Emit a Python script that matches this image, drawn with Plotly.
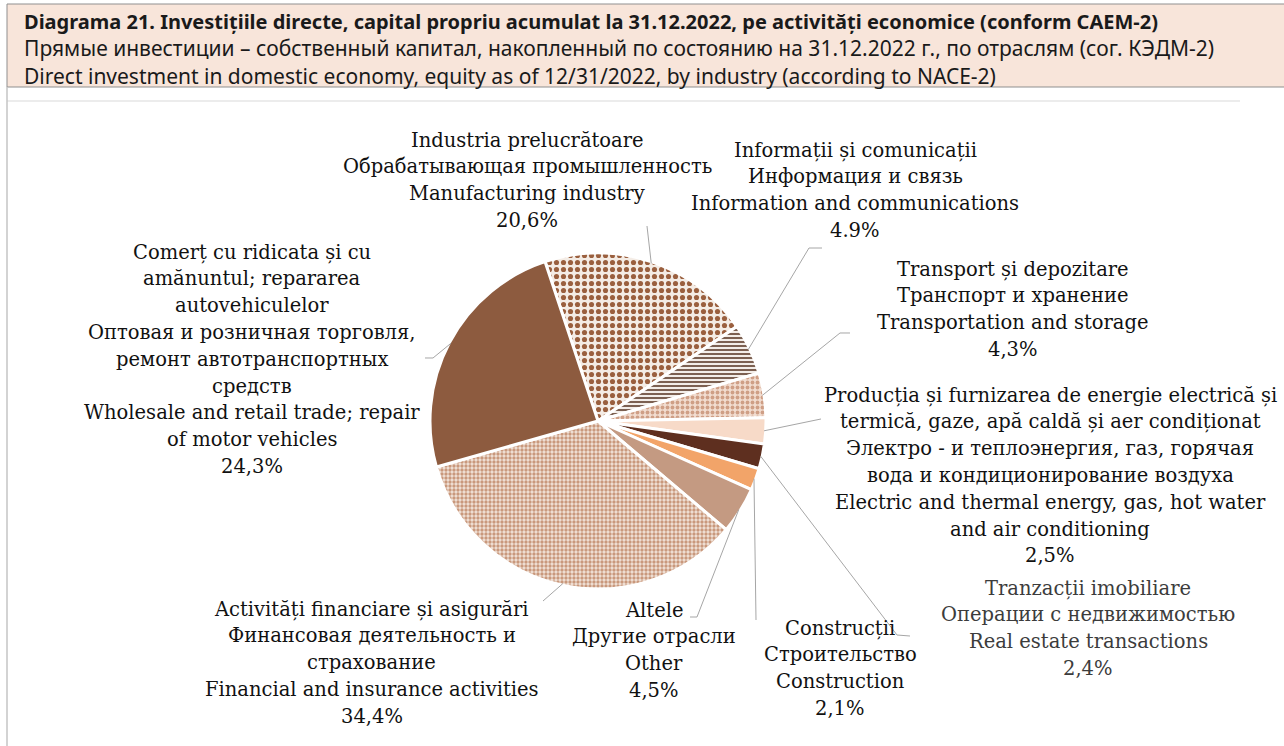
import math
import plotly.graph_objects as go

W, H = 1284, 746

# ---------------- data ----------------
label_lines = [
    ["Industria prelucrătoare", "Обрабатывающая промышленность", "Manufacturing industry"],
    ["Informații și comunicații", "Информация и связь", "Information and communications"],
    ["Transport și depozitare", "Транспорт и хранение", "Transportation and storage"],
    ["Producția și furnizarea de energie electrică și", "termică, gaze, apă caldă și aer condiționat",
     "Электро - и теплоэнергия, газ, горячая", "вода и кондиционирование воздуха",
     "Electric and thermal energy, gas, hot water", "and air conditioning"],
    ["Tranzacții imobiliare", "Операции с недвижимостью", "Real estate transactions"],
    ["Construcții", "Строительство", "Construction"],
    ["Altele", "Другие отрасли", "Other"],
    ["Activități financiare și asigurări", "Финансовая деятельность и", "страхование",
     "Financial and insurance activities"],
    ["Comerț cu ridicata și cu", "amănuntul; repararea", "autovehiculelor",
     "Оптовая и розничная торговля,", "ремонт автотранспортных", "средств",
     "Wholesale and retail trade; repair", "of motor vehicles"],
]
values = [20.6, 4.9, 4.3, 2.5, 2.4, 2.1, 4.5, 34.4, 24.3]
decimal_sep = [",", ".", ",", ",", ",", ",", ",", ",", ","]

title_lines = [
    "Diagrama 21. Investițiile directe, capital propriu acumulat la 31.12.2022, pe activități economice (conform CAEM-2)",
    "Прямые инвестиции – собственный капитал, накопленный по состоянию на 31.12.2022 г., по отраслям (сог. КЭДМ-2)",
    "Direct investment in domestic economy, equity as of 12/31/2022, by industry (according to NACE-2)",
]

# ---------------- styles ----------------
bg_colors = ["#f4ece5", "#f3ede8", "#f2ddd0", "#f7dac8", "#5e2f1f", "#f2a469", "#c49a82", "#f2e4da", "#8d5b3f"]
fg_colors = ["#9a5f3e", "#6e5040", "#cf9f86", "#f7dac8", "#5e2f1f", "#f2a469", "#c49a82", "#c9987c", "#8d5b3f"]
shapes_pat = [".", "-", ".", "", "", "", "", ".", ""]
pat_size = [7, 4, 5, 6, 6, 6, 6, 4, 6]
pat_solid = [0.42, 0.45, 0.45, 0.3, 0.3, 0.3, 0.3, 0.55, 0.3]

cx, cy, R = 598, 421, 168
rotation = -18.4

# label block positions (center x, first-line y) and leader-line end points (pixels)
label_pos = [(527, 140), (855, 150), (1013, 269), (1050, 395), (1088, 588),
             (840, 628), (654, 610), (372, 609), (252, 252)]
leader_ends = [
    [(647, 226)],
    [(809, 248), (822, 248)],
    [(840, 333), (850, 333)],
    [(821, 419)],
    [(897, 635), (910, 636)],
    [(756, 620)],
    [(697, 617), (690, 617)],
    [(543, 601)],
    [(433, 358), (425, 358)],
]
line_gap = 26.8
LABEL_FONT = "DejaVu Serif"
LABEL_SIZE = 19.5

TITLE_SIZE = 21
TITLE_CENTER_Y = 49.5


def px(x):
    return x / W


def py(y):
    return 1 - y / H


fig = go.Figure()
fig.add_trace(go.Pie(
    values=values,
    labels=[l[-1] for l in label_lines],
    sort=False,
    direction="clockwise",
    rotation=rotation,
    textinfo="none",
    hoverinfo="label+percent",
    showlegend=False,
    domain=dict(x=[px(cx - R), px(cx + R)], y=[py(cy + R), py(cy - R)]),
    marker=dict(
        colors=bg_colors,
        line=dict(color="white", width=3),
        pattern=dict(shape=shapes_pat, fgcolor=fg_colors, bgcolor=bg_colors,
                     size=pat_size, solidity=pat_solid, fillmode="replace"),
    ),
))

shapes = []
annotations = []

# header box and frame
shapes.append(dict(type="rect", xref="paper", yref="paper", x0=px(7), x1=1.01, y0=py(87), y1=py(4),
                   fillcolor="#f8e5da", line=dict(color="#8f8f8f", width=1), layer="below"))
shapes.append(dict(type="line", xref="paper", yref="paper", x0=px(7), x1=px(1240), y0=py(101), y1=py(101),
                   line=dict(color="#ececec", width=2), layer="below"))
shapes.append(dict(type="line", xref="paper", yref="paper", x0=px(7), x1=px(7), y0=0, y1=py(87),
                   line=dict(color="#c4c4c4", width=1.5), layer="below"))
title_text = ("<b><span style='font-size:20px'>" + title_lines[0] + "</span></b><br>"
              + title_lines[1] + "<br>" + title_lines[2])
annotations.append(dict(text=title_text, xref="paper", yref="paper", x=px(22), y=py(TITLE_CENTER_Y),
                        xanchor="left", yanchor="middle", align="left", showarrow=False,
                        font=dict(family="Noto Sans", size=TITLE_SIZE, color="#1a1a1a")))

# slice labels and leader lines
total = sum(values)
cum = 0.0
for i, v in enumerate(values):
    mid = rotation + (cum + v / 2) / total * 360
    cum += v
    a = math.radians(mid)
    sx, sy = cx + R * 0.99 * math.sin(a), cy - R * 0.99 * math.cos(a)
    pts = [(sx, sy)] + leader_ends[i]
    path = "M " + " L ".join(f"{px(x):.5f},{py(y):.5f}" for x, y in pts)
    shapes.append(dict(type="path", xref="paper", yref="paper", path=path,
                       line=dict(color="#a6a6a6", width=1)))
    pct = f"{v:.1f}".replace(".", decimal_sep[i]) + "%"
    lines = label_lines[i] + [pct]
    lx, ly = label_pos[i]
    col = "#3c3c3c" if i == 4 else "#111111"
    for j, ln in enumerate(lines):
        annotations.append(dict(text=ln, xref="paper", yref="paper", x=px(lx), y=py(ly + j * line_gap),
                                xanchor="center", yanchor="middle", showarrow=False,
                                font=dict(family=LABEL_FONT, size=LABEL_SIZE, color=col)))

fig.update_layout(
    width=W, height=H,
    margin=dict(l=0, r=0, t=0, b=0),
    paper_bgcolor="white",
    plot_bgcolor="white",
    shapes=shapes,
    annotations=annotations,
)

fig.write_html("out.html", config={"displayModeBar": False},
               post_script="document.body.style.margin='0px';document.body.style.overflow='hidden';")
